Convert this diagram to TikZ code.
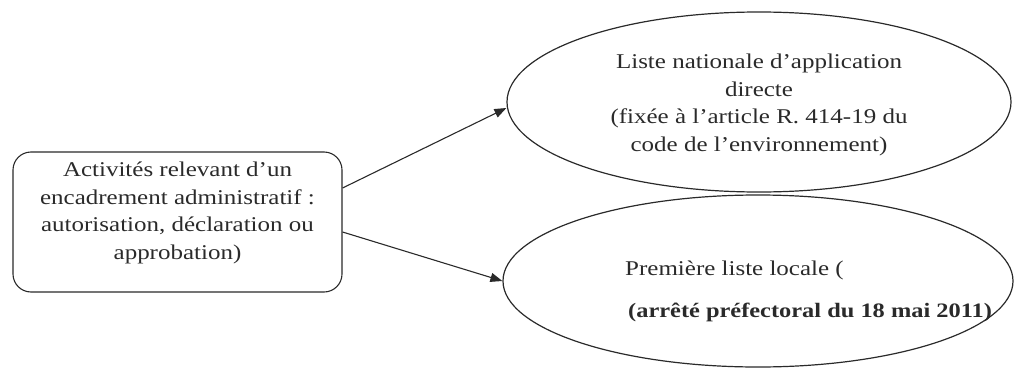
\documentclass[tikz,border=0pt]{standalone}
\usepackage{fontspec}
\setmainfont{Liberation Serif}[FakeStretch=1.19]
\usetikzlibrary{shapes.geometric,arrows.meta}
\definecolor{ink}{HTML}{2A2A2A}
\begin{document}
\begin{tikzpicture}[x=1pt,y=-1pt,
  every node/.style={text=ink},
  txt/.style={font=\fontsize{21}{27.5}\selectfont, align=center, inner sep=0pt},
  box/.style={draw=ink, line width=1.1pt, rounded corners=18pt, minimum width=329pt, minimum height=140pt, inner sep=0pt},
  oval/.style={draw=ink, line width=1.2pt, ellipse, inner sep=0pt},
  arr/.style={draw=ink, line width=1.1pt, -{Triangle[length=12pt,width=9pt]}}]
\useasboundingbox (0,0) rectangle (1014,372);
\node[box] (act) at (177.5,222) {};
\node[txt] (actt) at (177.5,213) {Activités relevant d’un\\encadrement administratif :\\autorisation, déclaration ou\\approbation)};
\node[oval, minimum width=504pt, minimum height=180pt] (nat) at (759,102) {};
\node[txt] (natt) at (759,105) {Liste nationale d’application\\directe\\(fixée à l’article R. 414-19 du\\code de l’environnement)};
\node[oval, minimum width=510pt, minimum height=172pt] (loc) at (758,281) {};
\node[txt, anchor=base west] (l1) at (625,275) {Première liste locale (};
\node[txt, anchor=base west, font=\fontsize{20.5}{27.5}\selectfont\bfseries] (l2) at (628,317) {(arrêté préfectoral du 18 mai 2011)};
\draw[arr] ([yshift=34pt]act.east) -- ([yshift=-6pt]nat.west);
\draw[arr] ([yshift=-10pt]act.east) -- (loc.west);
\end{tikzpicture}
\end{document}
